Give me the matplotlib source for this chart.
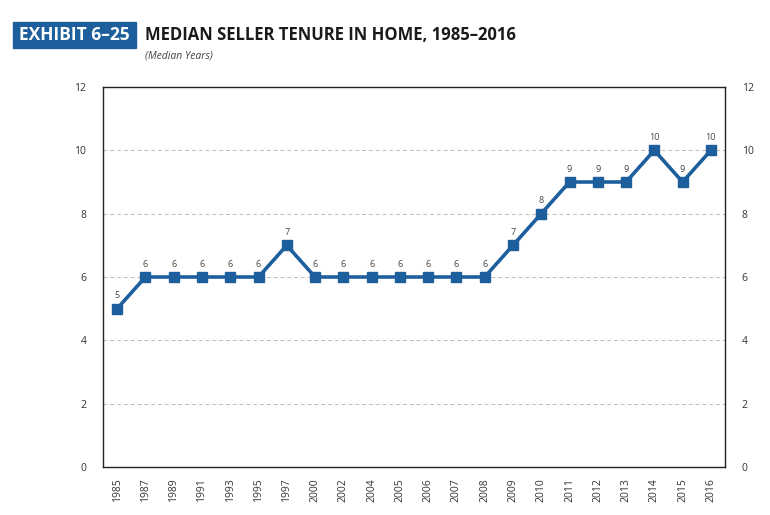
import matplotlib.pyplot as plt
from matplotlib.patches import Rectangle

years = ["1985", "1987", "1989", "1991", "1993", "1995", "1997", "2000", "2002", "2004", "2005",
         "2006", "2007", "2008", "2009", "2010", "2011", "2012", "2013", "2014", "2015", "2016"]
tenure = [5, 6, 6, 6, 6, 6, 7, 6, 6, 6, 6, 6, 6, 6, 7, 8, 9, 9, 9, 10, 9, 10]
yticks = [0, 2, 4, 6, 8, 10, 12]

blue = "#1d5f9c"
plt.rcParams['font.family'] = ['Open Sans', 'DejaVu Sans']

fig = plt.figure(figsize=(7.7, 5.15), dpi=100)
ax = fig.add_axes([103 / 770, 1 - 467 / 515, (725 - 103) / 770, (467 - 87) / 515])

x = list(range(len(years)))
ax.plot(x, tenure, color=blue, lw=2.6, marker='s', ms=7, zorder=3)
for xi, v in zip(x, tenure):
    ax.annotate(str(v), (xi, v), xytext=(0, 6), textcoords='offset points',
                ha='center', va='bottom', fontsize=6.5, color='#444444')

ax.set_xlim(-0.5, len(years) - 0.5)
ax.set_ylim(0, 12)
ax.set_xticks(x)
ax.set_xticklabels(years, rotation=90, fontsize=7.5, color='#333333')
ax.set_yticks(yticks)
ax.set_yticklabels([str(t) for t in yticks], fontsize=7.5, color='#333333')
ax.tick_params(length=0, pad=8)
ax.tick_params(axis='y', right=True, labelright=True, pad=12)
for t in yticks[1:-1]:
    ax.axhline(t, color='#bbbbbb', lw=0.7, ls=(0, (4, 3)), zorder=1)
for s in ax.spines.values():
    s.set_color('#222222')
    s.set_linewidth(1.0)

fig.patches.append(Rectangle((13 / 770, 1 - 48 / 515), 123 / 770, 26 / 515,
                             transform=fig.transFigure, color=blue))
fig.text(74.5 / 770, 1 - 35 / 515, "EXHIBIT 6–25", color='white', fontsize=12.5,
         fontweight='bold', ha='center', va='center')
fig.text(145 / 770, 1 - 35 / 515, "MEDIAN SELLER TENURE IN HOME, 1985–2016", color='#1a1a1a',
         fontsize=12, fontweight='bold', ha='left', va='center')
fig.text(145 / 770, 1 - 56 / 515, "(Median Years)", color='#444444', fontsize=7.5,
         style='italic', ha='left', va='center')

fig.savefig("out.png", dpi=100)
